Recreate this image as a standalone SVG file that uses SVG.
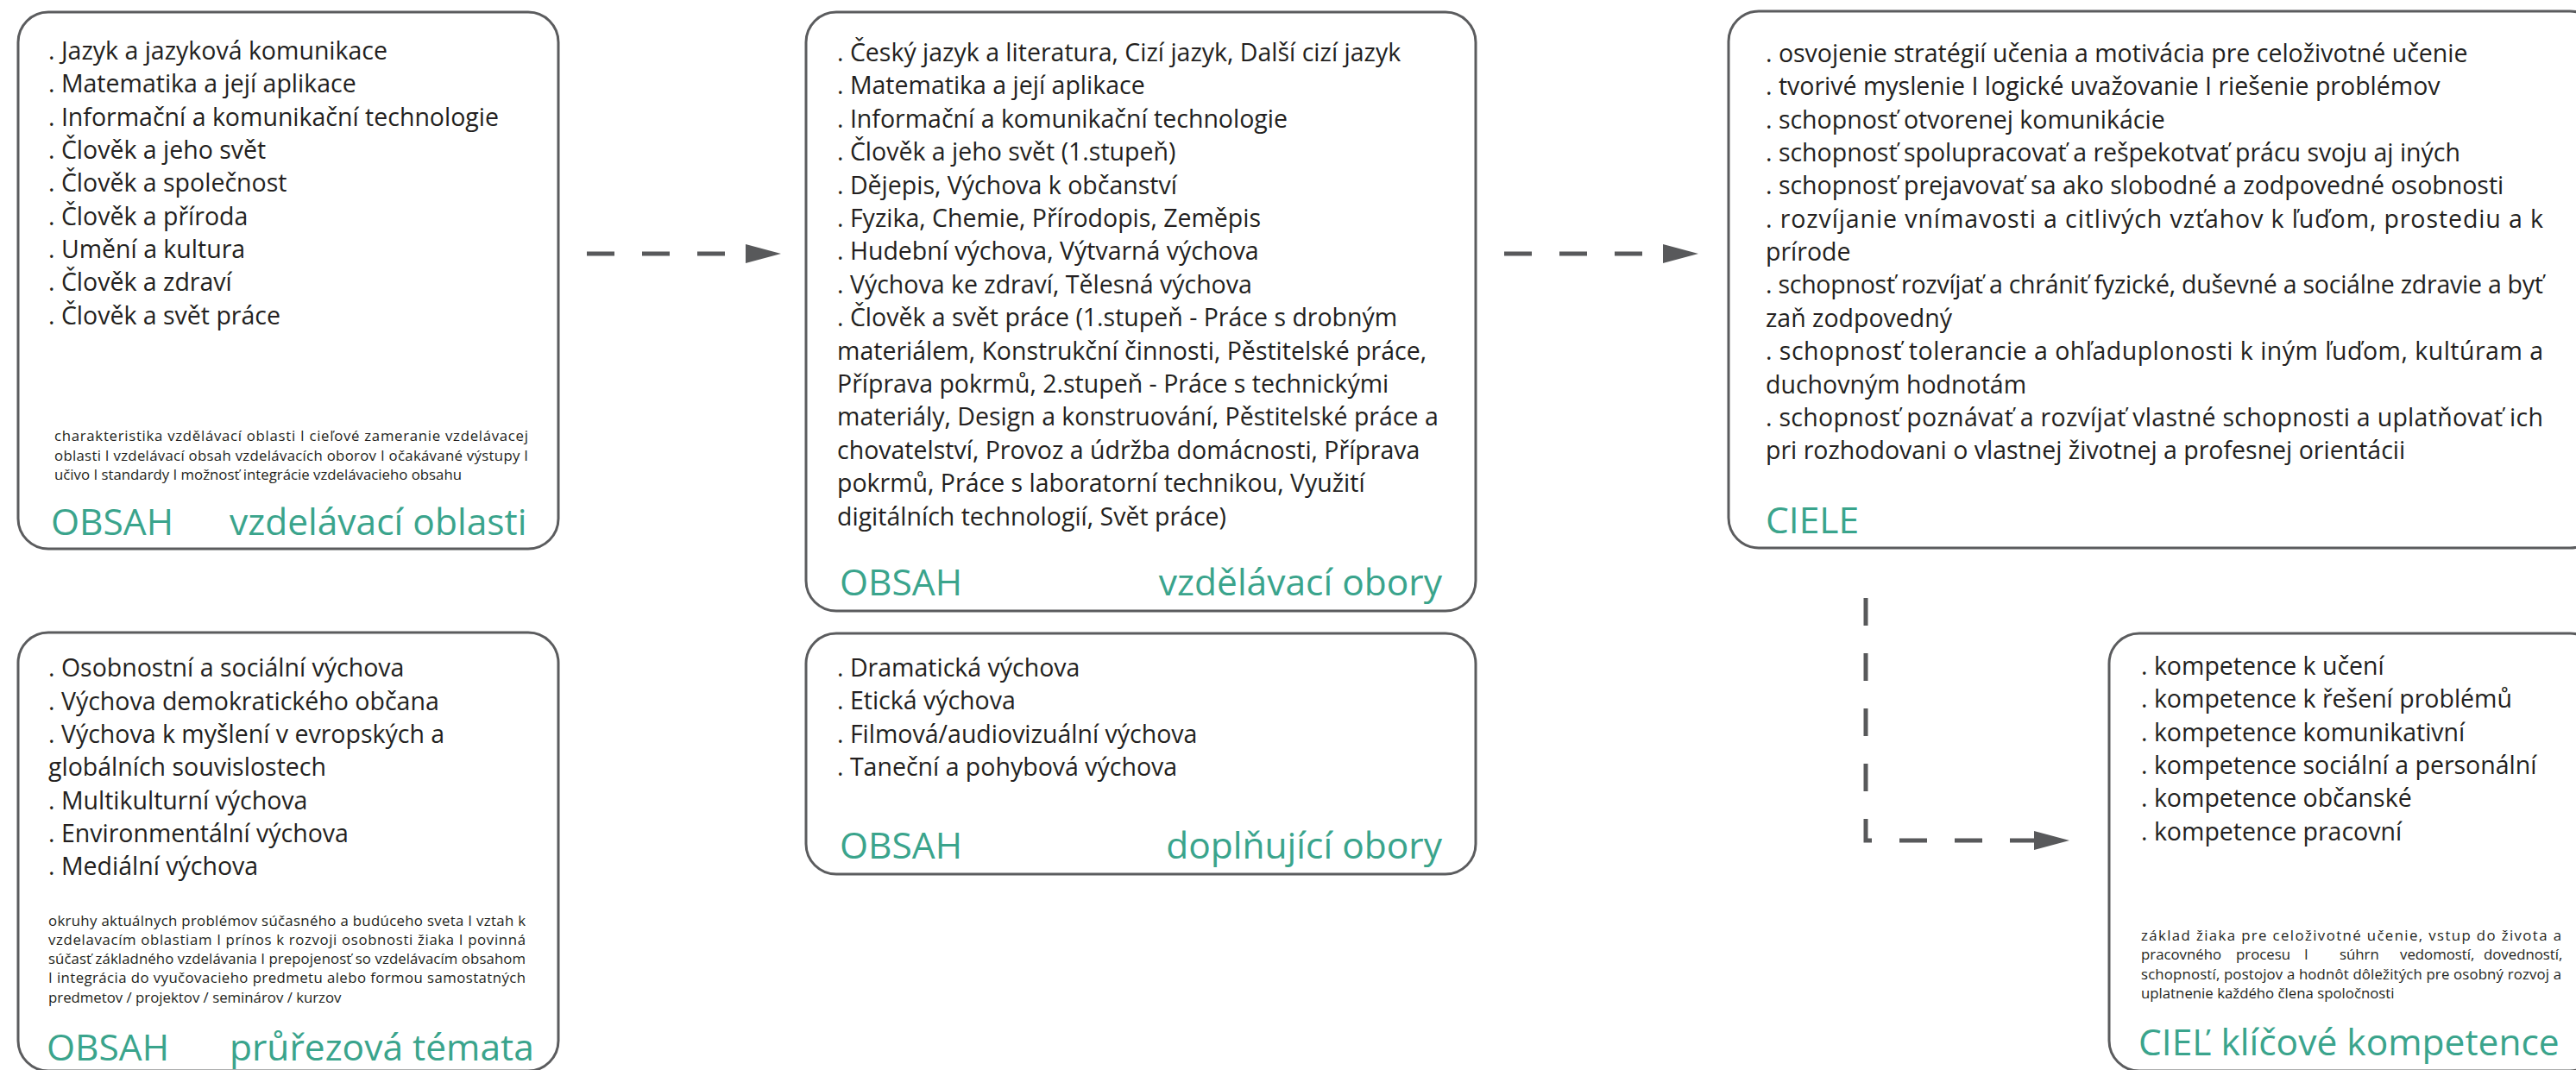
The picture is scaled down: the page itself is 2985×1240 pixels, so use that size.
<svg xmlns="http://www.w3.org/2000/svg" width="2985" height="1240" viewBox="0 0 2985 1240">
<defs>
<style>
.box{fill:#fff;stroke:#5b5c5e;stroke-width:3}
.t{font-family:"Open Sans","Liberation Sans",sans-serif;fill:#231f20}
.b{font-size:28.5px}
.s{font-size:16.8px}
.h{font-family:"Open Sans","Liberation Sans",sans-serif;font-size:42.5px;fill:#3aa48c}
.c{fill:none;stroke:#58595b;stroke-width:5;stroke-dasharray:32 32;stroke-linejoin:miter}
</style>
<marker id="ah" markerUnits="userSpaceOnUse" markerWidth="41" markerHeight="22" viewBox="0 0 41 22" refX="0" refY="11" orient="auto">
<path d="M0,0 L41,11 L0,22 z" fill="#58595b"/>
</marker>
</defs>
<rect width="2985" height="1240" fill="#fff"/>

<g id="connectors">
<path class="c" d="M680,294 H864" marker-end="url(#ah)"/>
<path class="c" d="M1743,294 H1927" marker-end="url(#ah)"/>
<path class="c" d="M2162,693 V974 H2357" marker-end="url(#ah)"/>
</g>

<g id="obsah-vzdelavaci-oblasti">
<rect class="box" x="21" y="14" width="626" height="622" rx="35"/>
<g class="t b">
<text x="56" y="69">. Jazyk a jazyková komunikace</text>
<text x="56" y="107.4">. Matematika a její aplikace</text>
<text x="56" y="145.7">. Informační a komunikační technologie</text>
<text x="56" y="184">. Člověk a jeho svět</text>
<text x="56" y="222.4">. Člověk a společnost</text>
<text x="56" y="260.8">. Člověk a příroda</text>
<text x="56" y="299.1">. Umění a kultura</text>
<text x="56" y="337.4">. Člověk a zdraví</text>
<text x="56" y="375.8">. Člověk a svět práce</text>
</g>
<g class="t s">
<text x="63" y="511" textLength="549" lengthAdjust="spacing">charakteristika vzdělávací oblasti I  cieľové zameranie vzdelávacej</text>
<text x="63" y="533.5" textLength="549" lengthAdjust="spacing">oblasti I vzdelávací obsah vzdelávacích oborov I očakávané výstupy I</text>
<text x="63" y="556">učivo I standardy I možnosť integrácie vzdelávacieho obsahu</text>
</g>
<text class="h" x="59" y="620">OBSAH</text>
<text class="h" x="266" y="620">vzdelávací oblasti</text>
</g>

<g id="obsah-prurezova-temata">
<rect class="box" x="21" y="733" width="626" height="508" rx="35"/>
<g class="t b">
<text x="56" y="784.4">. Osobnostní a sociální výchova</text>
<text x="56" y="822.7">. Výchova demokratického občana</text>
<text x="56" y="861">. Výchova k myšlení v evropských a</text>
<text x="56" y="899.3">globálních souvislostech</text>
<text x="56" y="937.6">. Multikulturní výchova</text>
<text x="56" y="975.9">. Environmentální výchova</text>
<text x="56" y="1014.2">. Mediální výchova</text>
</g>
<g class="t s">
<text x="56" y="1072.5" textLength="553" lengthAdjust="spacing">okruhy aktuálnych problémov súčasného a budúceho sveta I vztah k</text>
<text x="56" y="1094.8" textLength="553" lengthAdjust="spacing">vzdelavacím oblastiam I prínos k rozvoji osobnosti žiaka I povinná</text>
<text x="56" y="1117.1" textLength="553" lengthAdjust="spacing">súčasť základného vzdelávania I prepojenosť so vzdelávacím obsahom</text>
<text x="56" y="1139.4" textLength="553" lengthAdjust="spacing">I integrácia do vyučovacieho predmetu alebo formou samostatných</text>
<text x="56" y="1161.7">predmetov / projektov / seminárov / kurzov</text>
</g>
<text class="h" x="54" y="1229">OBSAH</text>
<text class="h" x="266" y="1229">průřezová témata</text>
</g>

<g id="obsah-vzdelavaci-obory">
<rect class="box" x="934" y="14" width="776" height="694" rx="35"/>
<g class="t b">
<text x="970" y="71">. Český jazyk a literatura, Cizí jazyk, Další cizí jazyk</text>
<text x="970" y="109.4">. Matematika a její aplikace</text>
<text x="970" y="147.8">. Informační a komunikační technologie</text>
<text x="970" y="186.2">. Člověk a jeho svět (1.stupeň)</text>
<text x="970" y="224.6">. Dějepis, Výchova k občanství</text>
<text x="970" y="263">. Fyzika, Chemie, Přírodopis, Zeměpis</text>
<text x="970" y="301.4">. Hudební výchova, Výtvarná výchova</text>
<text x="970" y="339.8">. Výchova ke zdraví, Tělesná výchova</text>
<text x="970" y="378.2">. Člověk a svět práce (1.stupeň - Práce s drobným</text>
<text x="970" y="416.6">materiálem, Konstrukční činnosti, Pěstitelské práce,</text>
<text x="970" y="455">Příprava pokrmů, 2.stupeň - Práce s technickými</text>
<text x="970" y="493.4">materiály, Design a konstruování, Pěstitelské práce a</text>
<text x="970" y="531.8">chovatelství, Provoz a údržba domácnosti, Příprava</text>
<text x="970" y="570.2">pokrmů, Práce s laboratorní technikou, Využití</text>
<text x="970" y="608.6">digitálních technologií, Svět práce)</text>
</g>
<text class="h" x="973" y="690">OBSAH</text>
<text class="h" x="1671" y="690" text-anchor="end">vzdělávací obory</text>
</g>

<g id="obsah-doplnujici-obory">
<rect class="box" x="934" y="734" width="776" height="279" rx="35"/>
<g class="t b">
<text x="970" y="784">. Dramatická výchova</text>
<text x="970" y="822.3">. Etická výchova</text>
<text x="970" y="860.6">. Filmová/audiovizuální výchova</text>
<text x="970" y="899">. Taneční a pohybová výchova</text>
</g>
<text class="h" x="973" y="995">OBSAH</text>
<text class="h" x="1671" y="995" text-anchor="end">doplňující obory</text>
</g>

<g id="ciele">
<rect class="box" x="2003" y="13" width="1010" height="622" rx="35"/>
<g class="t b">
<text x="2046" y="72">. osvojenie stratégií učenia a motivácia pre celoživotné učenie</text>
<text x="2046" y="110.4">. tvorivé myslenie I logické uvažovanie I riešenie problémov</text>
<text x="2046" y="148.7">. schopnosť otvorenej komunikácie</text>
<text x="2046" y="187">. schopnosť spolupracovať a rešpekotvať prácu svoju aj iných</text>
<text x="2046" y="225.4">. schopnosť prejavovať sa ako slobodné a zodpovedné osobnosti</text>
<text x="2046" y="263.8" textLength="901" lengthAdjust="spacing">. rozvíjanie vnímavosti a citlivých vzťahov k ľuďom, prostediu a k</text>
<text x="2046" y="302.1">prírode</text>
<text x="2046" y="340.4" textLength="901" lengthAdjust="spacing">. schopnosť rozvíjať a chrániť fyzické, duševné a sociálne zdravie a byť</text>
<text x="2046" y="378.8">zaň zodpovedný</text>
<text x="2046" y="417.2" textLength="901" lengthAdjust="spacing">. schopnosť tolerancie a ohľaduplonosti k iným ľuďom, kultúram a</text>
<text x="2046" y="455.5">duchovným hodnotám</text>
<text x="2046" y="493.8" textLength="901" lengthAdjust="spacing">. schopnosť poznávať a rozvíjať vlastné schopnosti a uplatňovať ich</text>
<text x="2046" y="532.2">pri rozhodovani o vlastnej životnej a profesnej orientácii</text>
</g>
<text class="h" x="2046" y="618">CIELE</text>
</g>

<g id="ciel-klicove-kompetence">
<rect class="box" x="2444" y="734" width="569" height="507" rx="35"/>
<g class="t b">
<text x="2481" y="782">. kompetence k učení</text>
<text x="2481" y="820.4">. kompetence k řešení problémů</text>
<text x="2481" y="858.7">. kompetence komunikativní</text>
<text x="2481" y="897">. kompetence sociální a personální</text>
<text x="2481" y="935.4">. kompetence občanské</text>
<text x="2481" y="973.8">. kompetence pracovní</text>
</g>
<g class="t s">
<text x="2481" y="1090" textLength="487" lengthAdjust="spacing">základ žiaka pre celoživotné učenie, vstup do života a</text>
<text y="1112.3"><tspan x="2481">pracovného</tspan><tspan x="2591">procesu</tspan><tspan x="2670">I</tspan><tspan x="2711">súhrn</tspan><tspan x="2781">vedomostí,</tspan><tspan x="2878">dovedností,</tspan></text>
<text x="2481" y="1134.6" textLength="487" lengthAdjust="spacing">schopností, postojov a hodnôt dôležitých pre osobný rozvoj a</text>
<text x="2481" y="1157">uplatnenie každého člena spoločnosti</text>
</g>
<text class="h" x="2478" y="1223">CIEĽ klíčové kompetence</text>
</g>
</svg>
